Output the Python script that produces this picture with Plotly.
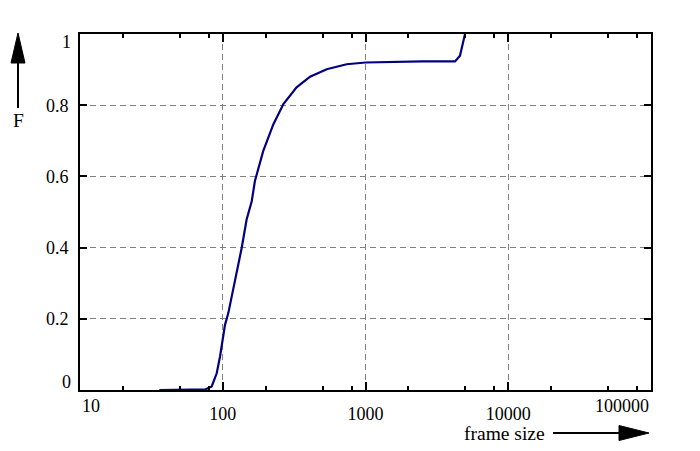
import plotly.graph_objects as go

# CDF of frame size
frame_size = [36, 69, 76, 83.7, 90.7, 95.7, 100, 103.7, 109.4, 118.6, 128.5, 135.7, 147,
              159.6, 168, 192, 226, 266, 329, 409, 535, 738, 1000, 1480, 2500, 4240,
              4590, 4980]
cdf = [0.0, 0.0, 0.002, 0.01, 0.047, 0.094, 0.141, 0.183, 0.216, 0.282, 0.347, 0.399,
       0.479, 0.530, 0.587, 0.671, 0.746, 0.803, 0.850, 0.880, 0.901, 0.915, 0.920,
       0.922, 0.923, 0.923, 0.939, 1.0]

x_tick_vals = [10, 100, 1000, 10000, 100000]
x_tick_text = ["10", "100", "1000", "10000", "100000"]
x_minor_vals = [m * d for d in [10, 100, 1000, 10000] for m in (2, 5, 8)]
y_tick_vals = [0, 0.2, 0.4, 0.6, 0.8, 1]
y_tick_text = ["0", "0.2", "0.4", "0.6", "0.8", "1"]

FONT = "Liberation Serif"
fig = go.Figure()
fig.add_trace(go.Scatter(x=frame_size, y=cdf, mode="lines",
                         line=dict(color="#000080", width=2.2), hoverinfo="skip"))

# middle tick labels via axis, edge labels as shifted annotations (gnuplot-like)
xt_inner = [t if i not in (0, len(x_tick_text) - 1) else "" for i, t in enumerate(x_tick_text)]
yt_inner = [t if i not in (0, len(y_tick_text) - 1) else "" for i, t in enumerate(y_tick_text)]

fig.update_xaxes(type="log", range=[1, 5], tickmode="array", tickvals=x_tick_vals,
                 ticktext=xt_inner, ticks="inside", ticklen=8, tickwidth=1.5, tickcolor="black",
                 showline=True, linewidth=2, linecolor="black", mirror="ticks",
                 showgrid=True, gridcolor="#808080", gridwidth=1, griddash="6px,4px",
                 minor=dict(tickmode="array", tickvals=x_minor_vals, ticks="inside",
                            ticklen=4, tickwidth=1.5, tickcolor="black", showgrid=False),
                 tickfont=dict(family=FONT, size=18, color="black"),
                 ticklabelstandoff=6, zeroline=False)
fig.update_yaxes(range=[0, 1], tickmode="array", tickvals=y_tick_vals, ticktext=yt_inner,
                 ticks="inside", ticklen=7, tickwidth=1.5, tickcolor="black",
                 showline=True, linewidth=2, linecolor="black", mirror="ticks",
                 showgrid=True, gridcolor="#808080", gridwidth=1, griddash="6px,4px",
                 tickfont=dict(family=FONT, size=18, color="black"),
                 ticklabelstandoff=6, zeroline=False)

tf = dict(family=FONT, size=18, color="black")
lf = dict(family=FONT, size=19.5, color="black")
ann = [
    dict(xref="paper", yref="paper", x=0, y=0, xanchor="left", yanchor="middle",
         yshift=-16, text=x_tick_text[0], showarrow=False, font=tf),
    dict(xref="paper", yref="paper", x=1, y=0, xanchor="right", yanchor="middle",
         yshift=-16, text=x_tick_text[-1], showarrow=False, font=tf),
    dict(xref="paper", yref="paper", x=0, y=0, xanchor="right", yanchor="middle",
         xshift=-7, yshift=8, text=y_tick_text[0], showarrow=False, font=tf),
    dict(xref="paper", yref="paper", x=0, y=1, xanchor="right", yanchor="middle",
         xshift=-7, yshift=-8, text=y_tick_text[-1], showarrow=False, font=tf),
    dict(xref="paper", yref="paper", x=0, y=0, xanchor="center", yanchor="middle",
         xshift=-62, yshift=270, text="F", showarrow=False, font=lf),
    dict(xref="paper", yref="paper", x=0, y=0, xanchor="center", yanchor="middle",
         xshift=424, yshift=-43, text="frame size", showarrow=False, font=lf),
]

shapes = [
    # y arrow shaft and head
    dict(type="line", xref="paper", yref="paper", xsizemode="pixel", ysizemode="pixel",
         xanchor=0, yanchor=0, x0=-62, x1=-62, y0=282, y1=330,
         line=dict(color="black", width=2)),
    dict(type="path", xref="paper", yref="paper", xsizemode="pixel", ysizemode="pixel",
         xanchor=0, yanchor=0, path="M -69 327 L -55 327 L -62 357 Z",
         fillcolor="black", line=dict(color="black", width=1)),
    # x arrow shaft and head
    dict(type="line", xref="paper", yref="paper", xsizemode="pixel", ysizemode="pixel",
         xanchor=0, yanchor=0, x0=473, x1=541, y0=-43, y1=-43,
         line=dict(color="black", width=2)),
    dict(type="path", xref="paper", yref="paper", xsizemode="pixel", ysizemode="pixel",
         xanchor=0, yanchor=0, path="M 539 -35.5 L 539 -50.5 L 569 -43 Z",
         fillcolor="black", line=dict(color="black", width=1)),
]

fig.update_layout(width=700, height=451, margin=dict(l=80, r=49, t=34, b=61),
                  paper_bgcolor="white", plot_bgcolor="white", showlegend=False,
                  annotations=ann, shapes=shapes)
fig.write_html("out.html", config={"displayModeBar": False},
               post_script="document.body.style.margin='0';")
